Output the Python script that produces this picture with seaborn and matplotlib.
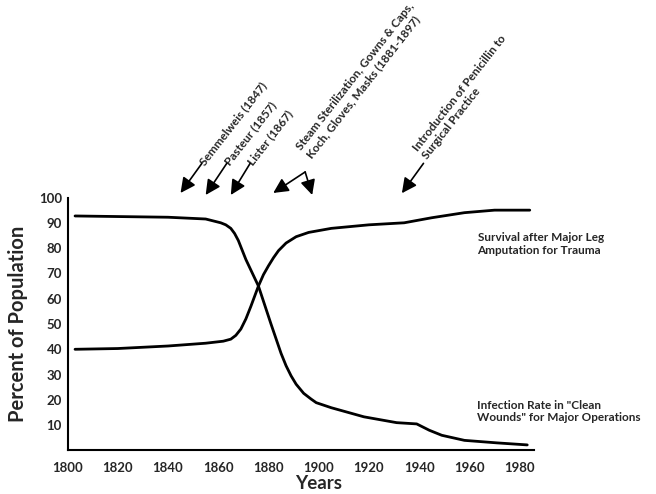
import pandas as pd
import seaborn as sns
import matplotlib.pyplot as plt
from matplotlib.ticker import MultipleLocator

# values
survival_years = [1803, 1820, 1840, 1855, 1862, 1865, 1867, 1869, 1871, 1873, 1876, 1878,
                  1880, 1882, 1884, 1887, 1891, 1896, 1905, 1920, 1934, 1945, 1958, 1970, 1984]
survival_pct = [40.0, 40.3, 41.3, 42.4, 43.2, 44.0, 45.5, 48.0, 52.0, 57.0, 65.0, 69.5,
                73.0, 76.2, 79.0, 82.0, 84.5, 86.2, 87.8, 89.2, 90.0, 92.0, 94.0, 95.0, 95.0]

infection_years = [1803, 1840, 1855, 1861, 1863, 1865, 1866.5, 1868, 1871, 1876, 1881, 1885,
                   1887, 1889, 1891, 1894, 1897, 1899, 1905, 1918, 1931, 1939, 1944, 1949,
                   1958, 1971, 1983]
infection_pct = [92.7, 92.2, 91.5, 90.0, 89.2, 87.8, 85.8, 83.0, 75.5, 65.0, 50.0, 38.4,
                 33.5, 29.5, 26.2, 22.6, 20.3, 18.9, 16.9, 13.3, 11.0, 10.5, 8.0, 6.0,
                 4.0, 3.0, 2.2]

series_labels = ['Survival after Major Leg\nAmputation for Trauma',
                 'Infection Rate in "Clean\nWounds" for Major Operations']

x_ticks = list(range(1800, 1981, 20))
y_ticks = list(range(10, 101, 10))

# events: text, arrow tail, arrow tip(s) (year, percent)
event_texts = ['Semmelweis (1847)', 'Pasteur (1857)', 'Lister (1867)',
               'Steam Sterilization, Gowns & Caps,\nKoch, Gloves, Masks (1881-1897)',
               'Introduction of Penicillin to\nSurgical Practice']
event_text_pos = [(1853.5, 113.5), (1863.4, 113.5), (1872.7, 113.5),
                  (1896.6, 115.6), (1942.8, 115.2)]
event_tails = [(1853.5, 113.5), (1863.4, 113.5), (1872.7, 113.5),
               (1894.6, 110.1), (1941.7, 113.5)]
event_tips = [[(1845.0, 101.8)], [(1855.0, 101.0)], [(1865.0, 101.0)],
              [(1881.9, 101.8), (1897.4, 101.0)], [(1933.1, 101.7)]]

df = pd.concat([
    pd.DataFrame({'year': survival_years, 'pct': survival_pct, 'series': 'survival'}),
    pd.DataFrame({'year': infection_years, 'pct': infection_pct, 'series': 'infection'}),
])

sns.set_style('white')
plt.rcParams['font.family'] = ['Lato', 'DejaVu Sans']
plt.rcParams['font.weight'] = 'bold'

fig = plt.figure(figsize=(6.56, 4.94), dpi=100)
ax = fig.add_axes([0.1029, 0.0881, 0.7104, 0.5121])

sns.lineplot(data=df, x='year', y='pct', hue='series', palette=['black', 'black'],
             linewidth=2, legend=False, ax=ax)

ax.set_xlim(1800, 1985.5)
ax.set_ylim(0, 100)
ax.set_xticks(x_ticks)
ax.xaxis.set_minor_locator(MultipleLocator(10))
ax.set_yticks(y_ticks)
ax.tick_params(axis='x', which='both', direction='in', length=3, width=1.2, pad=8,
               labelsize=9.5)
ax.tick_params(axis='y', length=0, pad=4, labelsize=9.5)
for lab in ax.get_xticklabels() + ax.get_yticklabels():
    lab.set_fontweight('bold')

for side in ['top', 'right']:
    ax.spines[side].set_visible(False)
for side in ['left', 'bottom']:
    ax.spines[side].set_color('black')
    ax.spines[side].set_linewidth(1.5)

ax.set_xlabel('Years', fontsize=13.5, fontweight='bold')
ax.set_ylabel('Percent of Population', fontsize=14.5, fontweight='bold')
ax.xaxis.set_label_coords(0.538, -0.098)
ax.yaxis.set_label_coords(-0.085, 0.5)

ax.text(1963.2, 81.6, series_labels[0], fontsize=8.5, fontweight='bold', va='center', ha='left')
ax.text(1963.0, 15.4, series_labels[1], fontsize=8.5, fontweight='bold', va='center', ha='left',
        clip_on=False)

arrow_style = dict(arrowstyle='-|>,head_length=0.5,head_width=0.25', color='black',
                   lw=1.2, mutation_scale=18, shrinkA=0, shrinkB=0)
for text, pos, tail, tips in zip(event_texts, event_text_pos, event_tails, event_tips):
    va = 'baseline' if '\n' in text else 'center'
    ax.text(pos[0], pos[1], text, rotation=52, rotation_mode='anchor', ha='left', va=va,
            fontsize=8.5, fontweight='bold', clip_on=False)
    for tip in tips:
        ax.annotate('', xy=tip, xytext=tail, arrowprops=arrow_style, annotation_clip=False)

fig.savefig('out.png', dpi=100)
